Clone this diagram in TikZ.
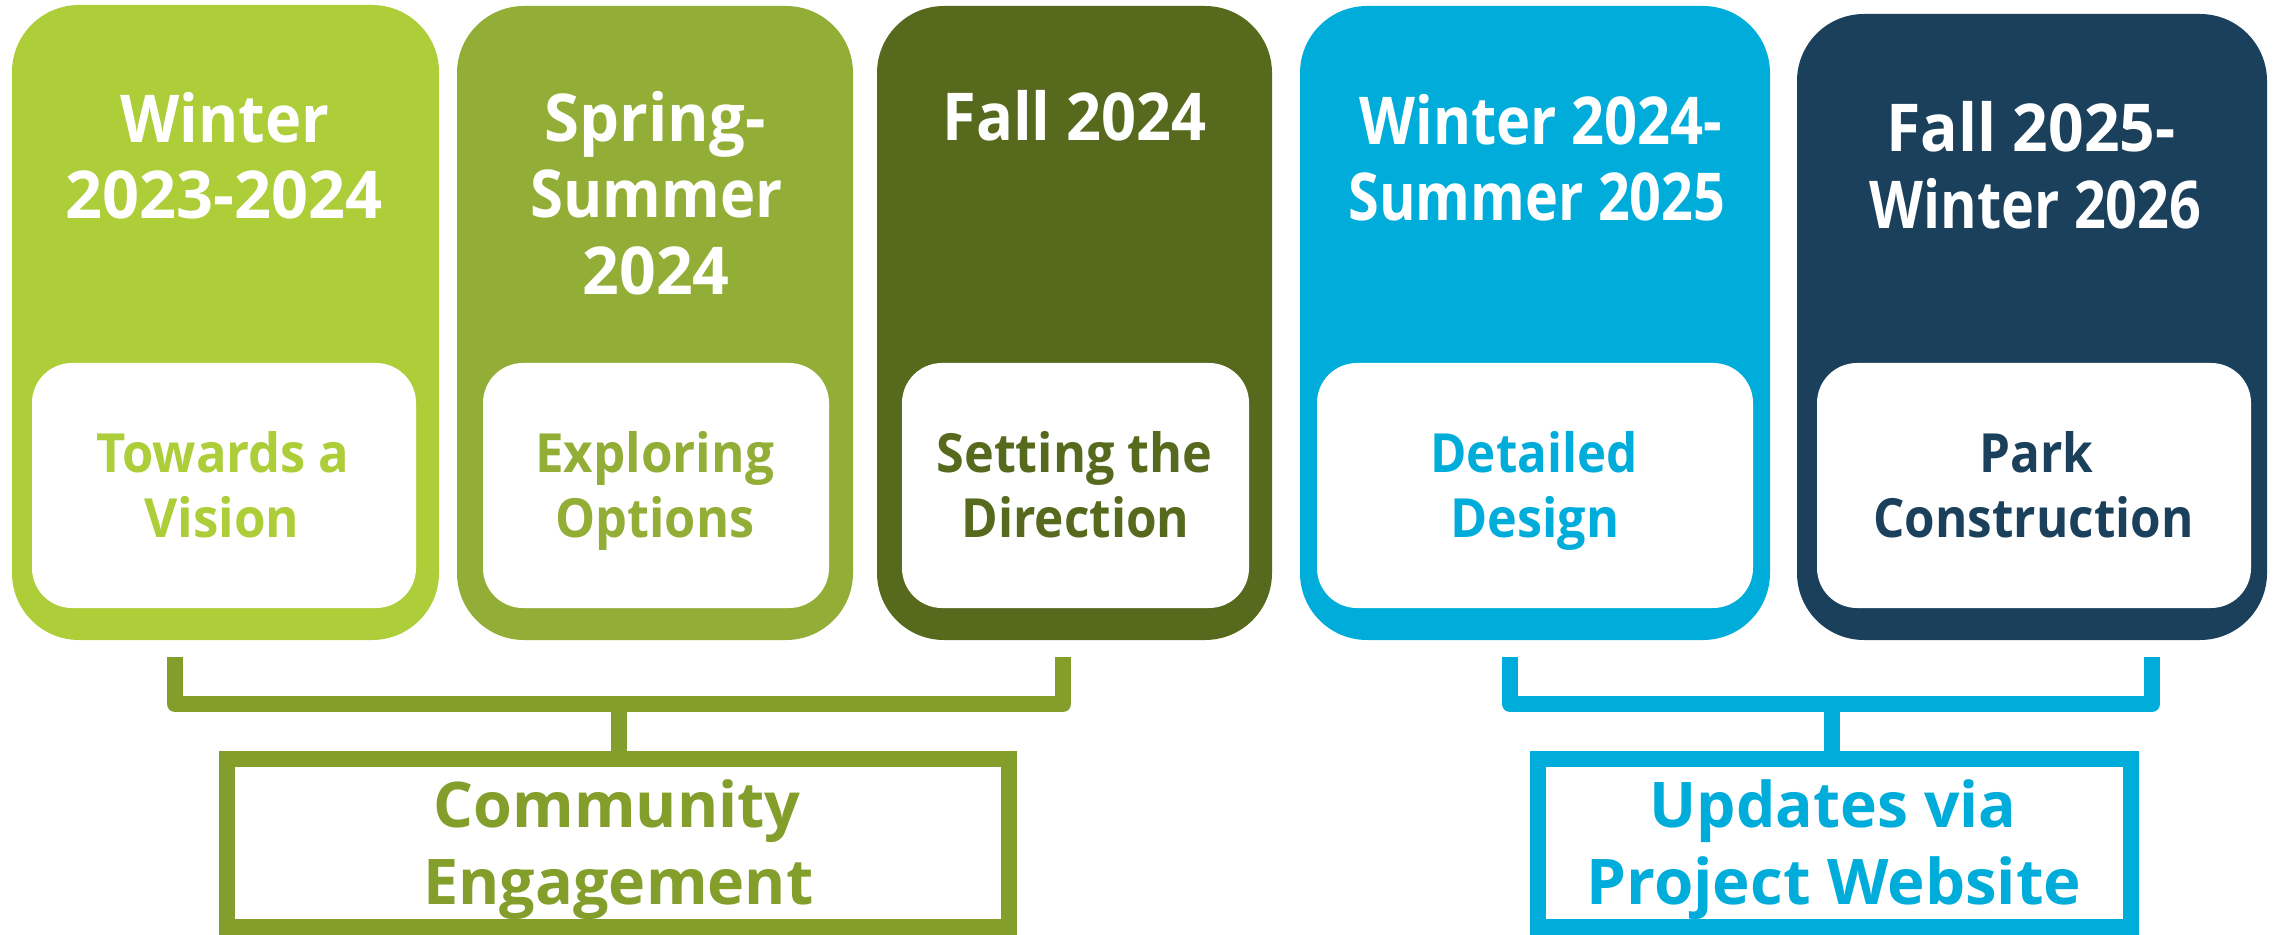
\documentclass[tikz,border=0pt]{standalone}
\usepackage{graphicx}
\usepackage{fontspec}
\setmainfont{Open Sans}
\newdimen\pxu \pxu=0.5pt
\newcommand\fitw[2]{\resizebox{#1\pxu}{\height}{#2}}
\definecolor{cA}{HTML}{ADCD39}
\definecolor{cB}{HTML}{93AE37}
\definecolor{cC}{HTML}{57691D}
\definecolor{cD}{HTML}{00ADDA}
\definecolor{cE}{HTML}{1B405B}
\definecolor{grn}{HTML}{849E2B}
\definecolor{cyn}{HTML}{00ADDA}
\tikzset{
  phase/.style={rectangle, rounded corners=33.5pt, inner sep=0pt, draw=none},
  innerbox/.style={rectangle, rounded corners=20pt, fill=white, inner sep=0pt, minimum height=122.5pt},
  head/.style={inner sep=0pt, anchor=base, text=white, font=\bfseries\fontsize{33}{33}\selectfont},
  lab/.style={inner sep=0pt, anchor=base, font=\bfseries\fontsize{27}{27}\selectfont},
  grp/.style={rectangle, line width=8pt, inner sep=0pt, fill=white, minimum height=84pt},
  grplab/.style={inner sep=0pt, anchor=base, font=\bfseries\fontsize{31.5}{31.5}\selectfont},
  brk/.style={line width=8pt, line join=round}
}
\begin{document}
\begin{tikzpicture}[x=0.5pt, y=-0.5pt]
\useasboundingbox (0,0) rectangle (2280,935);
% phase boxes
\node[phase, fill=cA, minimum width=213.5pt, minimum height=317.5pt] (p1) at (225.5,322.5) {};
\node[phase, fill=cB, minimum width=198pt, minimum height=317pt] (p2) at (655,323) {};
\node[phase, fill=cC, minimum width=197.5pt, minimum height=317pt] (p3) at (1074.5,323) {};
\node[phase, fill=cD, minimum width=235pt, minimum height=317pt] (p4) at (1535,323) {};
\node[phase, fill=cE, minimum width=235pt, minimum height=313pt] (p5) at (2032,327) {};
% inner white boxes
\node[innerbox, minimum width=192pt] (i1) at (224,485.5) {};
\node[innerbox, minimum width=173pt] (i2) at (656,485.5) {};
\node[innerbox, minimum width=173.5pt] (i3) at (1075.5,485.5) {};
\node[innerbox, minimum width=218pt] (i4) at (1535,485.5) {};
\node[innerbox, minimum width=217pt] (i5) at (2034,485.5) {};
% headings
\node[head] (h1a) at (225,143) {\fitw{209}{Winter}};
\node[head] (h1b) at (224,219) {\fitw{317}{2023-2024}};
\node[head] (h2a) at (655,142) {\fitw{221}{Spring-}};
\node[head] (h2b) at (656.5,218) {\fitw{252}{Summer}};
\node[head] (h2c) at (656,295) {\fitw{147}{2024}};
\node[head] (h3a) at (1074.5,141) {\fitw{264}{Fall 2024}};
\node[head] (h4a) at (1541,145) {\fitw{363}{Winter 2024-}};
\node[head] (h4b) at (1537,221) {\fitw{377}{Summer 2025}};
\node[head] (h5a) at (2031,152) {\fitw{289}{Fall 2025-}};
\node[head] (h5b) at (2035.5,229) {\fitw{332}{Winter 2026}};
% inner labels
\node[lab, text=cA] (l1a) at (223,473) {\fitw{253}{Towards a}};
\node[lab, text=cA] (l1b) at (222,537) {\fitw{155}{Vision}};
\node[lab, text=cB] (l2a) at (654.5,473) {\fitw{239}{Exploring}};
\node[lab, text=cB] (l2b) at (655,537) {\fitw{199}{Options}};
\node[lab, text=cC] (l3a) at (1074.5,473) {\fitw{276}{Setting the}};
\node[lab, text=cC] (l3b) at (1075.5,537) {\fitw{228}{Direction}};
\node[lab, text=cD] (l4a) at (1534,473) {\fitw{207}{Detailed}};
\node[lab, text=cD] (l4b) at (1535,537) {\fitw{169}{Design}};
\node[lab, text=cE] (l5a) at (2036.5,473) {\fitw{114}{Park}};
\node[lab, text=cE] (l5b) at (2033.5,537) {\fitw{320}{Construction}};
% group boxes
\node[grp, draw=grn, minimum width=391pt] (ce) at (618,843) {};
\node[grp, draw=cyn, minimum width=296.5pt] (cu) at (1834.5,843) {};
\node[grplab, text=grn] (g1a) at (617,827) {\fitw{367}{Community}};
\node[grplab, text=grn] (g1b) at (618.5,904) {\fitw{390}{Engagement}};
\node[grplab, text=cyn] (g2a) at (1833,827) {\fitw{367}{Updates via}};
\node[grplab, text=cyn] (g2b) at (1834,904) {\fitw{495}{Project Website}};
% brackets
\coordinate (b1l) at (175,657);
\coordinate (b1r) at (1063,657);
\coordinate (b1m) at (619,704);
\coordinate (b2l) at (1510,657);
\coordinate (b2r) at (2152,657);
\coordinate (b2m) at (1832,704);
\draw[brk, grn] (b1l) |- (b1m) -| (b1r);
\draw[brk, grn] (b1m) -- (b1m |- ce.north);
\draw[brk, cyn] (b2l) |- (b2m) -| (b2r);
\draw[brk, cyn] (b2m) -- (b2m |- cu.north);
\end{tikzpicture}
\end{document}
